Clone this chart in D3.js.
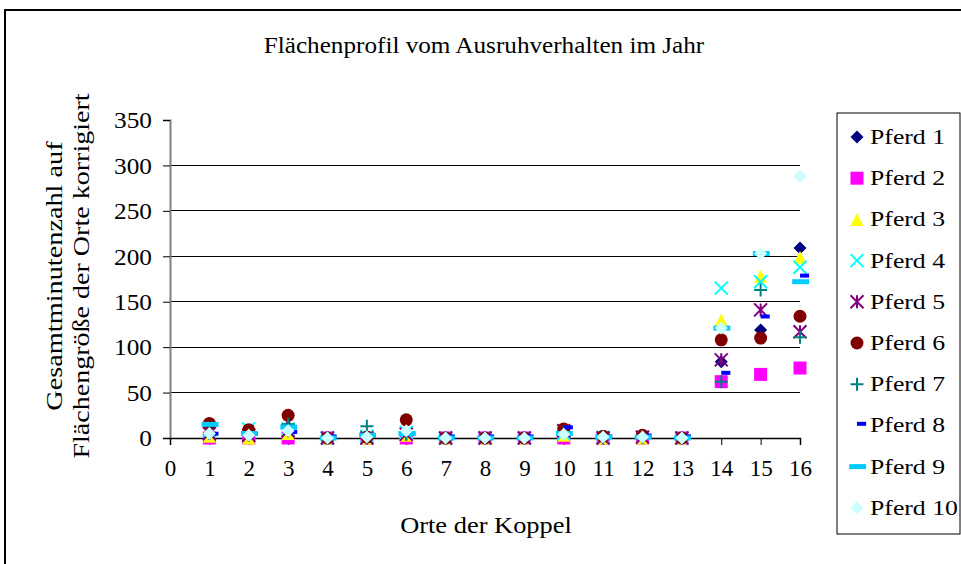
<!DOCTYPE html>
<html>
<head>
<meta charset="utf-8">
<script src="https://cdn.jsdelivr.net/npm/d3@7"></script>
<style>
  body { margin: 0; background: #fff; }
  svg text { font-family: "Liberation Serif", "Times New Roman", serif; fill: #000; }
</style>
</head>
<body>
<div id="chart"></div>
<script>
// Orte der Koppel (x values)
const orte = [1, 2, 3, 4, 5, 6, 7, 8, 9, 10, 11, 12, 13, 14, 15, 16];

// Gesamtminutenzahl per Ort, one list per horse
const pferd1  = [3, 2, 12, 0, 1, 2, 0, 0, 0, 8, 1, 1, 0, 84, 119, 209];
const pferd2  = [0, 0, 0, 0, 0, 0, 0, 0, 0, 0, 0, 0, 0, 62, 70, 77];
const pferd3  = [2, 0, 5, 0, 0, 3, 0, 0, 0, 3, 0, 0, 0, 130, 178, 199];
const pferd4  = [8, 10, 10, 0, 2, 6, 0, 0, 0, 5, 1, 1, 0, 165, 172, 188];
const pferd5  = [5, 3, 8, 0, 0, 4, 0, 0, 0, 8, 0, 1, 0, 86, 141, 117];
const pferd6  = [16, 9, 25, 0, 1, 20, 0, 0, 0, 10, 2, 3, 0, 108, 110, 134];
const pferd7  = [5, 3, 15, 0, 13, 5, 0, 0, 0, 6, 1, 1, 0, 62, 163, 111];
const pferd8  = [3, 3, 5, 0, 1, 3, 0, 0, 0, 10, 0, 1, 0, 70, 132, 177];
const pferd9  = [15, 5, 12, 0, 3, 5, 0, 0, 0, 5, 1, 1, 0, 121, 203, 172];
const pferd10 = [5, 3, 8, 0, 1, 8, 0, 0, 0, 4, 1, 1, 0, 121, 203, 288];

const seriesNames = ["Pferd 1", "Pferd 2", "Pferd 3", "Pferd 4", "Pferd 5",
                     "Pferd 6", "Pferd 7", "Pferd 8", "Pferd 9", "Pferd 10"];
const seriesValues = [pferd1, pferd2, pferd3, pferd4, pferd5,
                      pferd6, pferd7, pferd8, pferd9, pferd10];

const yTicks = [0, 50, 100, 150, 200, 250, 300, 350];
const xTicks = d3.range(0, 17);

// marker look for each series (Excel defaults)
const markerStyle = [
    {shape: "diamond",  color: "#000080"},
    {shape: "square",   color: "#FF00FF"},
    {shape: "triangle", color: "#FFFF00"},
    {shape: "cross",    color: "#00FFFF"},
    {shape: "star",     color: "#800080"},
    {shape: "circle",   color: "#800000"},
    {shape: "plus",     color: "#008080"},
    {shape: "shortdash",color: "#0000FF"},
    {shape: "longdash", color: "#00CCFF"},
    {shape: "diamond",  color: "#CCFFFF"}
];

const width = 961, height = 564;
const plot = {left: 170, right: 800, top: 120, bottom: 438};

let svg = d3.select("#chart").append("svg")
    .attr("width", width)
    .attr("height", height);

// The source picture has its text a bit wider than plain Times,
// so each label is scaled horizontally around its anchor point.
function stretch(sel, sx) {
    sel.each(function() {
        let t = d3.select(this);
        let x = +t.attr("x") || 0, y = +t.attr("y") || 0;
        let base = t.attr("transform") ? t.attr("transform") + " " : "";
        t.attr("x", null).attr("y", null)
            .attr("transform", base + "translate(" + x + "," + y + ") scale(" + sx + ",1)");
    });
}

// outer chart frame (cut off at the right and bottom like the picture)
svg.append("rect")
    .attr("x", 5).attr("y", 10)
    .attr("width", 1000).attr("height", 600)
    .attr("fill", "#fff")
    .attr("stroke", "#000")
    .attr("stroke-width", 2);

let xScale = d3.scaleLinear().domain([0, 16]).range([plot.left, plot.right]);
let yScale = d3.scaleLinear().domain([0, 350]).range([plot.bottom, plot.top]);

// horizontal gridlines (none on the top tick)
svg.append("g")
    .selectAll("line")
    .data(yTicks.filter(d => d > 0 && d < 350))
    .enter().append("line")
    .attr("x1", plot.left).attr("x2", plot.right)
    .attr("y1", d => yScale(d)).attr("y2", d => yScale(d))
    .attr("stroke", "#000")
    .attr("stroke-width", 1)
    .attr("shape-rendering", "crispEdges");

// y axis
let yAxis = svg.append("g")
    .attr("transform", "translate(" + plot.left + ",0)")
    .call(d3.axisLeft(yScale).tickValues(yTicks).tickSize(7).tickPadding(11));
yAxis.select(".domain").attr("stroke", "#808080").attr("stroke-width", 2);
yAxis.selectAll(".tick line").attr("stroke", "#000");
yAxis.selectAll("text").style("font-size", "23px").attr("dy", "0.34em").call(stretch, 1.1);

// x axis
let xAxis = svg.append("g")
    .attr("transform", "translate(0," + plot.bottom + ")")
    .call(d3.axisBottom(xScale).tickValues(xTicks).tickSize(7).tickPadding(15));
xAxis.select(".domain").attr("stroke", "#000").attr("stroke-width", 1.5);
xAxis.selectAll(".tick line").attr("stroke", "#000");
xAxis.selectAll("text").style("font-size", "23px");

// marker path generators, r = half size
function markerPath(shape, r) {
    switch (shape) {
        case "diamond":  return `M0,${-r}L${r},0L0,${r}L${-r},0Z`;
        case "square":   return `M${-r},${-r}H${r}V${r}H${-r}Z`;
        case "triangle": return `M0,${-r}L${r},${r}H${-r}Z`;
        case "cross":    return `M${-r},${-r}L${r},${r}M${r},${-r}L${-r},${r}`;
        case "star":     return `M${-r},${-r}L${r},${r}M${r},${-r}L${-r},${r}M0,${-r}V${r}`;
        case "plus":     return `M${-r},0H${r}M0,${-r}V${r}`;
        case "circle":   return d3.symbol(d3.symbolCircle, Math.PI * r * r)();
        case "shortdash":return `M0,${-r * 0.55}H${r * 1.4}V${-r * 0.55 + 4}H0Z`;
        case "longdash": return `M${-r * 1.2},${-2.5}H${r * 1.4}V${2.5}H${-r * 1.2}Z`;
    }
}
const lineShapes = ["cross", "star", "plus"];

function drawMarker(sel, style, r) {
    let isLine = lineShapes.includes(style.shape);
    sel.attr("d", markerPath(style.shape, r))
        .attr("fill", isLine ? "none" : style.color)
        .attr("stroke", isLine ? style.color : "none")
        .attr("stroke-width", isLine ? 2 : 0);
}

// points, one group per series; later series on top
seriesValues.forEach((values, i) => {
    let points = orte.map((o, j) => ({x: o, y: values[j]}));
    svg.append("g").attr("class", "series")
        .selectAll("path")
        .data(points)
        .enter().append("path")
        .attr("transform", d => "translate(" + xScale(d.x) + "," + yScale(d.y) + ")")
        .call(drawMarker, markerStyle[i], 6.5);
});

// title and axis titles
svg.append("text")
    .attr("x", 484).attr("y", 53)
    .attr("text-anchor", "middle")
    .style("font-size", "23px")
    .text("Flächenprofil vom Ausruhverhalten im Jahr")
    .call(stretch, 1.095);

svg.append("text")
    .attr("x", 486).attr("y", 533)
    .attr("text-anchor", "middle")
    .style("font-size", "23px")
    .text("Orte der Koppel")
    .call(stretch, 1.15);

let yTitle = svg.append("g")
    .attr("transform", "translate(0,276) rotate(-90)");
yTitle.append("text")
    .attr("x", 0).attr("y", 62)
    .attr("text-anchor", "middle")
    .style("font-size", "23px")
    .text("Gesamtminutenzahl auf")
    .call(stretch, 1.23);
yTitle.append("text")
    .attr("x", 0).attr("y", 89)
    .attr("text-anchor", "middle")
    .style("font-size", "23px")
    .text("Flächengröße der Orte korrigiert")
    .call(stretch, 1.22);

// legend
let legend = svg.append("g").attr("transform", "translate(837,113)");
legend.append("rect")
    .attr("width", 123).attr("height", 421)
    .attr("fill", "#fff")
    .attr("stroke", "#000")
    .attr("stroke-width", 1);

let entries = legend.selectAll("g.entry")
    .data(seriesNames)
    .enter().append("g")
    .attr("class", "entry")
    .attr("transform", (d, i) => "translate(0," + (24 + i * 41.2) + ")");
entries.append("path")
    .attr("transform", "translate(20,0)")
    .each(function(d, i) { d3.select(this).call(drawMarker, markerStyle[i], 6.5); });
entries.append("text")
    .attr("x", 33).attr("y", 7)
    .style("font-size", "22px")
    .text(d => d)
    .call(stretch, 1.17);
</script>
</body>
</html>
